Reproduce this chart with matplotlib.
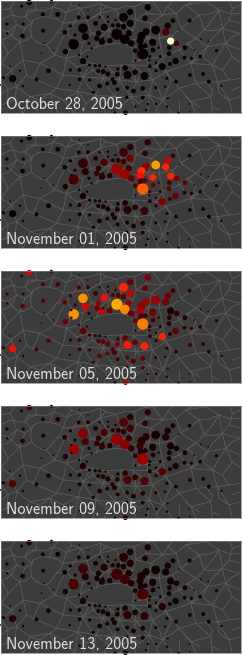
#!/usr/bin/env python3
import matplotlib
matplotlib.use("Agg")
import matplotlib.pyplot as plt

W, H = 242, 655
DPI = 100

dates = ["October 28, 2005", "November 01, 2005", "November 05, 2005",
         "November 09, 2005", "November 13, 2005"]
panel_tops = [1, 136, 271, 406, 541]
panel_h = 112

# station positions and radii in map units
lon = [88, 155, 445, 372, 392, 437, 521, 505, 499, 392, 372, 250, 288, 314, 340, 356, 469, 440, 426, 352,
       388, 376, 422, 297, 257, 331, 307, 292, 222, 460, 395, 424, 514, 532, 510, 430, 407, 197, 250, 461,
       438, 557, 509, 529, 489, 512, 377, 407, 384, 435, 353, 311, 325, 296, 339, 38, 146, 110, 68, 130,
       174, 129, 65, 70, 21, 195, 237, 265, 212, 226, 571, 572, 612, 629, 652, 378, 346, 538, 281, 300,
       323, 345, 354, 383, 402, 430, 382, 430, 408, 469, 503, 556, 577, 603, 270, 240, 212, 239, 270, 287,
       300, 318, 355, 483, 451, 470, 530, 497, 445, 478, 451, 2, 22, 10, 30, 60, 70, 160, 125, 132,
       210, 240, 320, 440, 262, 238, 215, 215, 268, 276, 408, 449, 470, 585, 627, 667, 505, 470, 503, 300,
       325, 348, 325, 310, 540, 605, 570, 572, 240, 265]
lat = [8, 4, 22, 52, 36, 55, 62, 77, 96, 70, 80, 85, 70, 82, 76, 76, 90, 95, 108, 103,
       100, 118, 122, 100, 110, 122, 125, 115, 133, 127, 130, 140, 123, 130, 143, 162, 152, 155, 183, 150,
       137, 143, 161, 183, 200, 192, 204, 217, 225, 228, 223, 215, 222, 213, 238, 236, 212, 238, 108, 92,
       43, 43, 18, 72, 72, 97, 52, 52, 78, 105, 62, 225, 222, 245, 152, 338, 338, 338, 277, 258,
       251, 248, 268, 263, 273, 265, 292, 293, 320, 263, 235, 173, 175, 170, 240, 238, 210, 210, 195, 197,
       197, 200, 207, 170, 199, 212, 245, 260, 312, 143, 170, 255, 100, 233, 198, 212, 258, 150, 160, 130,
       255, 317, 322, 330, 170, 165, 143, 120, 130, 145, 182, 180, 188, 150, 125, 258, 295, 312, 320, 52,
       50, 60, 65, 115, 88, 118, 312, 335, 15, 30]
radius = [7, 4, 8, 11, 8, 7, 6, 8, 9, 9, 7, 12, 6, 9, 5, 6, 11, 9, 10, 14,
          8, 12, 9, 7, 9, 7, 8, 7, 13, 9, 8, 8, 9, 7, 6, 14, 6, 7, 8, 6,
          6, 6, 6, 8, 9, 5, 7, 7, 10, 10, 6, 6, 6, 5, 5, 9, 6, 5, 6, 5,
          6, 5, 4, 4, 4, 6, 5, 5, 4, 4, 5, 5, 5, 5, 4, 6, 3, 3, 4, 6,
          5, 6, 5, 5, 6, 6, 4, 5, 3, 4, 4, 5, 4, 5, 4, 5, 4, 5, 4, 4,
          4, 3, 4, 4, 5, 4, 5, 3, 3, 3, 4, 2, 3, 4, 2, 3, 3, 2, 2, 2,
          3, 3, 3, 3, 3, 3, 3, 3, 4, 3, 3, 3, 3, 2, 2, 3, 3, 3, 3, 3,
          3, 3, 3, 3, 2, 2, 2, 2, 2, 2]

# scaled activity of each station per day, 0 = quiet, 1 = hottest
oct28 = [0, 0, 0, 0, 0, 0, 0, .02, .1, 0, 0, 0, 0, 0, 0, 0, 0, 0, 0, 0,
         0, 0, 0, 0, 0, 0, 0, 0, 0, 0, 0, 0, .95, .1, 0, 0, 0, 0, 0, 0] + [0] * 110
nov01 = [0, 0, .05, .08, .05, .06, .08, .3, .42, .15, .08, .06, .03, .1, .03, .04, .6, .2, .43, .22,
         .08, .22, .38, .05, .04, .03, .05, .05, .1, .42, .12, .1, .42, .16, .1, .5, .1, .02, .02, .14,
         .14, .14, .12, .14, .17, .06, .03, .04, .04, .07, .02, .02, .01, .01, .01, 0, 0, 0, 0, 0,
         0, 0, 0, 0, 0, .02, .01, .01, .01, .01, .02, .03, .02, .01, .02, 0, 0, 0, 0, .01,
         .01, .01, .01, .02, .02, .02, 0, .01, 0, .01, .02, .05, .03, .04, .01, .01, .01, .01, .01, .01,
         .01, .01, .01, .08, .05, .04, .02, .01, 0, .06, .08, 0, 0, 0, 0, 0, 0, 0, 0, 0,
         0, 0, 0, 0, .01, .01, .01, .01, .01, .01, .06, .05, .04, .01, .01, 0, 0, 0, 0, .01,
         .01, .01, .01, .02, .03, .01, 0, 0, 0, 0]
nov05 = [.33, .06, .17, .42, .14, .14, .08, .15, .15, .28, .12, .58, .08, .38, .08, .1, .22, .22, .2, .62,
         .2, .57, .24, .2, .32, .13, .3, .16, .58, .15, .14, .11, .02, .06, .04, .55, .14, .14, .14, .09,
         .09, .05, .05, .13, .42, .05, .14, .14, .4, .42, .18, .14, .12, .12, .1, .38, .13, .1, .14, .09,
         .12, .12, .07, .06, .06, .13, .1, .08, .08, .08, .05, .08, .06, .05, .05, .25, .05, .04, .1, .13,
         .13, .11, .1, .12, .13, .14, .1, .12, .06, .07, .06, .05, .05, .06, .08, .08, .07, .09, .07, .07,
         .07, .06, .08, .05, .08, .07, .07, .05, .05, .05, .05, .02, .05, .06, .04, .05, .06, .04, .04, .04,
         .06, .08, .07, .06, .06, .06, .06, .06, .07, .06, .06, .05, .05, .03, .03, .03, .05, .05, .05, .07,
         .07, .07, .07, .07, .04, .03, .04, .05, .05, .05]
nov09 = [.1, .02, .06, .11, .04, .05, .02, .03, .03, .08, .05, .18, .03, .09, .03, .03, .03, .05, .05, .2,
         .05, .19, .07, .06, .1, .04, .06, .05, .22, .02, .04, .03, .01, .01, .01, .22, .05, .04, .04, .02,
         .02, .02, .01, .03, .11, .01, .05, .05, .1, .11, .05, .04, .03, .03, .03, .11, .03, .03, .05, .02,
         .03, .03, .02, .02, .02, .04, .03, .03, .02, .02, .02, .02, .02, .01, .01, .07, .01, .01, .03, .03,
         .03, .03, .03, .03, .03, .04, .03, .03, .01, .02, .01, .01, .01, .02, .03, .03, .02, .03, .02, .02,
         .02, .01, .02, .01, .02, .02, .02, .01, .01, .01, .01, 0, .01, .01, .01, .01, .02, .01, .01, .01,
         .02, .02, .02, .01, .02, .02, .02, .02, .02, .01, .01, .01, .01, .01, .01, .01, .01, .01, .01, .02,
         .02, .02, .02, .02, .01, .01, .01, .01, .01, .01]
nov13 = [.04, 0, .03, .05, .02, .02, .01, .02, .01, .03, .02, .08, .01, .04, .01, .01, .01, .02, .02, .08,
         .02, .08, .03, .03, .04, .02, .03, .02, .1, .01, .02, .01, .01, .01, .01, .09, .02, .02, .02, .01,
         .01, .01, .01, .01, .04, .01, .02, .02, .05, .05, .02, .02, .01, .01, .01, .05, .01, .01, .02, .01,
         .01, .01, .01, .01, .01, .02, .01, .01, .01, .01, .01, .01, .01, .01, .01, .03, .01, .01, .01, .01,
         .01, .01, .01, .01, .01, .01, .01, .01, .01, .01, .01, .01, .01, .01, .01, .01, .01, .01, .01, .01,
         .01, .01, .01, .01, .01, .01, .01, .01, .01, .01, .01, 0, .01, .01, .01, .01, .01, .01, .01, .01,
         .01, .01, .01, .01, .01, .01, .01, .01, .01, .01, .01, .01, .01, 0, 0, 0, .01, .01, .01, .01,
         .01, .01, .01, .01, .01, 0, .01, .01, .01, .01]
activity = [oct28, nov01, nov05, nov09, nov13]

# district boundaries
borders = [
    [(3, 60), (22, 50), (40, 45), (58, 52), (75, 50), (92, 36), (110, 30), (135, 32), (160, 22), (180, 26), (200, 38), (222, 28), (245, 25), (272, 20), (300, 10), (325, 22), (350, 28), (378, 18), (405, 20), (432, 8), (460, 5)],
    [(3, 120), (20, 115), (35, 105), (48, 118), (60, 125), (78, 122), (95, 110), (92, 85), (100, 60), (125, 50), (150, 52), (175, 58), (190, 70), (182, 88), (170, 100), (158, 118), (140, 135), (125, 132), (110, 125), (95, 110)],
    [(40, 45), (50, 75), (35, 105)],
    [(75, 50), (95, 70), (100, 60)],
    [(160, 22), (150, 52)],
    [(200, 38), (190, 70), (225, 65), (245, 25)],
    [(225, 65), (200, 95), (170, 100)],
    [(140, 135), (165, 165), (200, 175), (240, 165)],
    [(200, 95), (180, 130), (165, 165)],
    [(240, 165), (258, 152), (280, 145), (305, 136), (330, 132), (355, 130), (375, 132), (392, 140), (400, 150), (404, 168), (400, 185), (425, 178), (445, 180), (445, 197), (400, 195), (365, 195), (320, 197), (275, 190), (245, 180), (240, 165)],
    [(225, 65), (262, 62), (300, 40), (350, 28)],
    [(262, 62), (275, 100), (250, 130), (240, 165)],
    [(300, 40), (318, 65), (330, 90), (325, 110), (330, 132)],
    [(350, 28), (365, 70), (400, 90), (375, 132)],
    [(405, 20), (410, 60), (400, 90)],
    [(410, 60), (455, 70), (490, 45), (530, 40), (560, 15), (620, 5)],
    [(460, 5), (490, 45)],
    [(455, 70), (450, 110), (400, 150)],
    [(530, 40), (545, 85), (520, 105), (480, 115), (450, 110)],
    [(560, 15), (600, 45), (545, 85)],
    [(600, 45), (630, 42), (660, 30), (695, 42), (726, 40)],
    [(620, 5), (660, 30)],
    [(600, 45), (615, 90), (590, 115), (545, 85)],
    [(615, 90), (645, 92), (670, 85), (700, 95), (726, 100)],
    [(670, 85), (660, 30)],
    [(590, 115), (625, 140), (680, 130), (700, 140), (726, 150)],
    [(670, 85), (680, 130)],
    [(520, 105), (540, 150), (590, 115)],
    [(480, 115), (490, 170), (540, 150)],
    [(400, 185), (450, 175), (490, 170)],
    [(540, 150), (575, 190), (625, 140)],
    [(575, 190), (640, 195), (680, 130)],
    [(640, 195), (655, 245), (690, 240), (726, 235)],
    [(575, 190), (590, 250), (655, 245)],
    [(490, 170), (500, 215), (575, 190)],
    [(445, 197), (460, 240), (500, 215)],
    [(500, 215), (540, 265), (590, 250)],
    [(460, 240), (450, 285), (490, 300), (540, 265)],
    [(400, 195), (410, 245), (460, 240)],
    [(410, 245), (395, 290), (450, 285)],
    [(365, 195), (360, 240), (410, 245)],
    [(320, 197), (310, 235), (360, 240)],
    [(360, 240), (345, 290), (395, 290)],
    [(310, 235), (290, 285), (345, 290)],
    [(275, 190), (250, 230), (310, 235)],
    [(250, 230), (235, 275), (290, 285)],
    [(200, 175), (190, 225), (250, 230)],
    [(190, 225), (170, 265), (235, 275)],
    [(165, 165), (120, 190), (190, 225)],
    [(120, 190), (70, 180), (60, 125)],
    [(70, 180), (35, 210), (3, 190)],
    [(120, 190), (100, 235), (170, 265)],
    [(70, 180), (80, 225), (100, 235)],
    [(35, 210), (50, 260), (25, 268), (3, 285)],
    [(80, 225), (50, 260), (90, 290), (150, 280), (170, 265)],
    [(90, 290), (70, 340)],
    [(150, 280), (175, 340)],
    [(235, 275), (225, 340)],
    [(290, 285), (280, 340)],
    [(395, 290), (410, 340)],
    [(450, 285), (445, 340)],
    [(490, 300), (520, 340)],
    [(540, 265), (575, 305), (590, 340)],
    [(590, 250), (635, 290), (640, 340)],
    [(635, 290), (575, 305)],
    [(655, 245), (690, 300), (700, 340)],
    [(690, 300), (726, 290)],
    [(3, 120), (25, 160), (3, 190)],
    [(25, 160), (60, 125)],
    [(300, 10), (300, 40)],
    [(245, 25), (262, 62)],
    [(330, 90), (275, 100)],
    [(450, 110), (440, 150), (445, 180)],
    # smaller districts
    [(3, 30), (30, 25), (40, 45)],
    [(30, 25), (45, 3)],
    [(75, 50), (85, 30), (110, 30)],
    [(110, 30), (105, 3)],
    [(160, 22), (175, 3)],
    [(200, 38), (215, 15), (245, 25)],
    [(215, 15), (210, 3)],
    [(50, 75), (75, 85), (95, 70)],
    [(75, 85), (60, 125)],
    [(3, 90), (25, 95), (50, 75)],
    [(25, 95), (35, 105)],
    [(262, 62), (285, 50), (300, 40)],
    [(330, 90), (350, 75), (365, 70)],
    [(300, 40), (320, 18)],
    [(410, 60), (440, 40), (490, 45)],
    [(440, 40), (445, 8)],
    [(455, 70), (480, 85), (480, 115)],
    [(530, 40), (505, 20), (490, 45)],
    [(505, 20), (520, 3)],
    [(560, 15), (585, 3)],
    [(726, 70), (690, 60), (670, 85)],
    [(690, 60), (700, 25), (726, 15)],
    [(700, 25), (690, 3)],
    [(640, 60), (660, 30)],
    [(640, 60), (615, 90)],
    [(640, 115), (670, 85)],
    [(640, 115), (625, 140)],
    [(700, 110), (726, 100)],
    [(700, 110), (680, 130)],
    [(700, 170), (680, 130)],
    [(700, 170), (726, 190)],
    [(700, 170), (670, 210), (640, 195)],
    [(670, 210), (690, 240)],
    [(610, 170), (640, 195)],
    [(610, 170), (625, 140)],
    [(610, 170), (575, 190)],
    [(565, 130), (590, 115)],
    [(565, 130), (540, 150)],
    [(565, 130), (590, 155), (575, 190)],
    [(620, 245), (640, 270), (635, 290)],
    [(560, 290), (575, 305)],
    [(600, 320), (575, 305)],
    [(660, 330), (640, 320)],
    [(540, 300), (540, 340)],
    [(490, 300), (470, 330), (480, 340)],
    [(700, 270), (726, 260)],
    [(690, 300), (660, 280), (655, 245)],
    [(3, 240), (35, 210)],
    [(3, 240), (25, 268)],
    [(25, 268), (20, 310), (3, 315)],
    [(50, 260), (45, 300), (20, 310)],
    [(45, 300), (70, 340)],
    [(120, 300), (90, 290)],
    [(120, 300), (110, 340)],
    [(120, 300), (150, 280)],
    [(150, 280), (190, 300), (225, 340)],
    [(190, 300), (235, 275)],
    [(260, 310), (235, 275)],
    [(260, 310), (290, 285)],
    [(260, 310), (250, 340)],
    [(320, 310), (290, 285)],
    [(320, 310), (345, 290)],
    [(320, 310), (315, 340)],
    [(370, 315), (345, 290)],
    [(370, 315), (395, 290)],
    [(370, 315), (360, 340)],
    [(420, 310), (395, 290)],
    [(420, 310), (450, 285)],
    [(470, 320), (450, 285)],
    # ring of small districts round the lake
    [(275, 100), (300, 110), (330, 90)],
    [(300, 110), (290, 145)],
    [(250, 130), (220, 120), (200, 95)],
    [(220, 120), (200, 175)],
    [(330, 132), (345, 110), (330, 90)],
    [(345, 110), (400, 90)],
    [(400, 120), (375, 132)],
    [(400, 120), (450, 110)],
    [(410, 150), (440, 150)],
    [(200, 175), (230, 200), (275, 190)],
    [(230, 200), (250, 230)],
    [(280, 210), (275, 190)],
    [(280, 210), (310, 235)],
    [(280, 210), (250, 230)],
    [(340, 215), (320, 197)],
    [(340, 215), (360, 240)],
    [(340, 215), (310, 235)],
    [(385, 220), (365, 195)],
    [(385, 220), (410, 245)],
    [(385, 220), (360, 240)],
    [(430, 220), (400, 195)],
    [(430, 220), (460, 240)],
    [(430, 220), (410, 245)],
    [(470, 200), (445, 197)],
    [(470, 200), (500, 215)],
    [(470, 200), (490, 170)],
    [(360, 240), (375, 265), (395, 290)],
    [(410, 245), (430, 265), (450, 285)],
    [(310, 235), (325, 262), (345, 290)],
    [(250, 230), (265, 258), (290, 285)],
    [(460, 240), (480, 270), (490, 300)],
    [(500, 215), (515, 245), (490, 300)],
]

fig = plt.figure(figsize=(W / DPI, H / DPI), dpi=DPI, facecolor="white")

for top, date, values in zip(panel_tops, dates, activity):
    ax = fig.add_axes([1 / W, 1 - (top + panel_h) / H, 240 / W, panel_h / H])
    ax.set_facecolor("#3c3c3c")
    ax.set_xlim(3, 726)
    ax.set_ylim(339, 3)
    ax.set_xticks([])
    ax.set_yticks([])
    for spine in ax.spines.values():
        spine.set_color("#808080")
        spine.set_linewidth(0.5)

    for line in borders:
        xs = [p[0] for p in line]
        ys = [p[1] for p in line]
        ax.plot(xs, ys, color="#5c5c5c", lw=0.6, zorder=1, solid_joinstyle="round")

    # radius is in map units, about 2.5 of them to a pixel
    sizes = [(2 * r / 2.5 * 72 / DPI) ** 2 for r in radius]
    ax.scatter(lon, lat, s=sizes, c=values, cmap="hot", vmin=0, vmax=1,
               linewidths=0, zorder=2, clip_on=False)

    ax.text(18, 327, date, family="cmss10", fontsize=11.6, color="#dcdcdc",
            ha="left", va="baseline", zorder=3)

fig.savefig("out.png", dpi=DPI)
